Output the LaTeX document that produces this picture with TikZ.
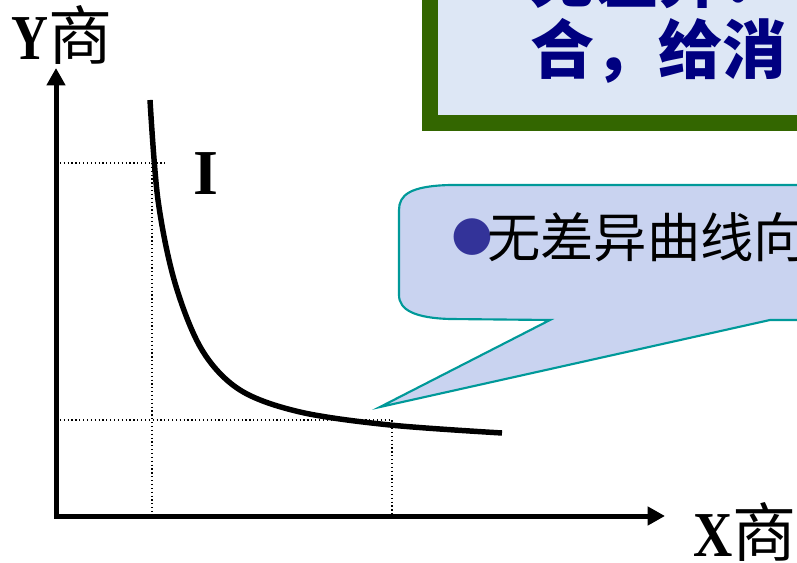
\documentclass[tikz,border=0pt]{standalone}
\usepackage{fontspec}
\usepackage{graphicx}
\setmainfont{Liberation Serif}
\newfontfamily\cjk{Noto Sans CJK SC}
\newfontfamily\symfont{DejaVu Sans}
\usetikzlibrary{arrows.meta}

\definecolor{boxgreen}{HTML}{336600}
\definecolor{boxfill}{HTML}{DDE7F5}
\definecolor{calloutline}{HTML}{009999}
\definecolor{calloutfill}{HTML}{C9D3F0}
\definecolor{navytext}{HTML}{000080}
\definecolor{bulletblue}{HTML}{333399}

\tikzset{
  axis/.style={line width=3.75pt, line join=miter,
    {Triangle[length=13pt,width=13.5pt]}-{Triangle[length=13pt,width=13.5pt]}},
  guide/.style={dotted, line width=0.9pt},
  icurve/.style={line width=4.1pt},
  biglabel/.style={inner sep=0pt, font=\fontsize{48}{56}\selectfont\bfseries},
  boxtext/.style={inner sep=0pt, text=navytext, font=\cjk\fontsize{48}{56}\selectfont\bfseries},
  callouttext/.style={inner sep=0pt, font=\cjk\fontsize{40}{48}\selectfont}
}

\begin{document}
\begin{tikzpicture}[x=0.75pt,y=-0.75pt]
\path[use as bounding box] (0,0) rectangle (797,563);
\clip (0,0) rectangle (797,563);

% text box at the top
\draw[line width=12pt, draw=boxgreen, fill=boxfill] (430,-40) rectangle (900,123);
\node[boxtext, anchor=west] (lineA) at (530,-22) {无差异：};
\node[boxtext, anchor=west] (lineB) at (530,51) {合，给消};

% callout
\path[draw=calloutline, fill=calloutfill, line width=1.6pt, line join=miter]
  (900,185) -- (450,185) .. controls (410,186) and (399,195) .. (399,210)
  -- (399,295) .. controls (399,310) and (415,318) .. (450,319)
  -- (550,320) -- (380,407) -- (770,320) -- (900,320);
\node[inner sep=0pt, text=bulletblue, font=\symfont\fontsize{36}{40}\selectfont] (dot) at (472,237) {●};
\node[callouttext, anchor=west] (note) at (487,237) {无差异曲线向};

% axes
\coordinate (O) at (56,516);
\coordinate (ytip) at (56,68);
\coordinate (xtip) at (665,516);
\draw[axis] (ytip) -- (O) -- (xtip);

% guide lines
\coordinate (ya) at (56,163);
\coordinate (pa) at (152,163);
\coordinate (xa) at (152,516);
\coordinate (yb) at (56,420);
\coordinate (pb) at (392,420);
\coordinate (xb) at (392,516);
\draw[guide] (ya) -- (165,163);
\draw[guide] (pa) -- (xa);
\draw[guide] (yb) -- (pb) -- (xb);

% indifference curve
\draw[icurve] plot[smooth, tension=0.55] coordinates {
  (150,100) (158,200) (175,283) (202,350) (240,390) (300,412)
  (390,425) (502,433)};

\node[biglabel, anchor=base west] (ilabel) at (193,195) {I};
\node[biglabel, anchor=base west] (ylabel) at (11,60) {\scalebox{0.8}[1]{Y}{\cjk\mdseries 商}};
\node[biglabel, anchor=base west] (xlabel) at (693,556) {\scalebox{0.85}[1]{X}{\cjk\mdseries 商}};
\end{tikzpicture}
\end{document}
